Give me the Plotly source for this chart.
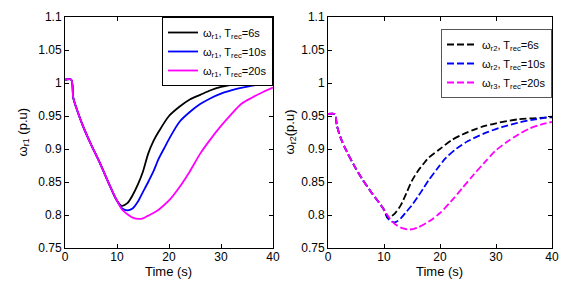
import plotly.graph_objects as go

# ---------------- data ----------------
# Left panel (omega_r1)
t_r1_6 = [0, 1.2, 1.6, 2.5, 3.5, 5, 6.7, 8.7, 9.9, 10.9, 12, 13, 14, 15, 16, 17, 18, 20, 22, 24, 26, 28, 30, 34, 40]
v_r1_6 = [1.005, 1.005, 0.977, 0.955, 0.934, 0.907, 0.879, 0.843, 0.823, 0.814, 0.818, 0.830, 0.846, 0.866, 0.893, 0.912, 0.926, 0.950, 0.964, 0.975, 0.982, 0.989, 0.994, 1.000, 1.006]

t_r1_10 = [0, 1.2, 1.6, 2.5, 3.5, 5, 6.7, 8.7, 9.9, 11, 12, 13, 14, 15, 16, 17, 18, 19, 20, 22, 24, 26, 28, 30, 33, 36, 40]
v_r1_10 = [1.005, 1.005, 0.977, 0.955, 0.934, 0.907, 0.879, 0.843, 0.823, 0.810, 0.807, 0.810, 0.820, 0.835, 0.850, 0.866, 0.885, 0.900, 0.915, 0.941, 0.956, 0.968, 0.977, 0.984, 0.991, 0.996, 1.001]

t_r1_20 = [0, 1.2, 1.6, 2.5, 3.5, 5, 6.7, 8.7, 9.9, 11, 12, 13, 14.2, 15, 16, 17, 18, 20, 22, 24, 26, 28, 30, 32, 34, 36, 38, 40]
v_r1_20 = [1.005, 1.005, 0.977, 0.955, 0.934, 0.907, 0.879, 0.843, 0.823, 0.808, 0.801, 0.796, 0.794, 0.795, 0.799, 0.803, 0.808, 0.822, 0.842, 0.866, 0.893, 0.915, 0.935, 0.953, 0.969, 0.978, 0.986, 0.993]

# Right panel (omega_r2)
t_r2_6 = [0, 1.2, 1.6, 2.3, 3.3, 4.6, 6, 7.6, 9, 10, 10.7, 12, 13, 14, 15, 16, 17, 18, 20, 22, 24, 26, 28, 30, 34, 40]
v_r2_6 = [0.953, 0.953, 0.935, 0.916, 0.897, 0.876, 0.856, 0.836, 0.820, 0.808, 0.795, 0.803, 0.815, 0.833, 0.852, 0.866, 0.877, 0.887, 0.900, 0.913, 0.922, 0.929, 0.935, 0.939, 0.945, 0.948]

t_r2_10 = [0, 1.2, 1.6, 2.3, 3.3, 4.6, 6, 7.6, 9, 10, 11, 12, 13, 14, 15, 16, 17, 18, 19.5, 21, 23, 25, 28, 31, 34, 37, 40]
v_r2_10 = [0.953, 0.953, 0.935, 0.916, 0.897, 0.876, 0.856, 0.836, 0.820, 0.808, 0.792, 0.789, 0.795, 0.805, 0.815, 0.827, 0.840, 0.853, 0.870, 0.886, 0.901, 0.912, 0.924, 0.933, 0.940, 0.945, 0.949]

t_r2_20 = [0, 1.2, 1.6, 2.3, 3.3, 4.6, 6, 7.6, 9, 10, 11, 12, 13, 14.5, 16, 18, 20, 22, 24, 26, 28, 30, 32, 34, 36, 38, 40]
v_r2_20 = [0.953, 0.953, 0.935, 0.916, 0.897, 0.876, 0.856, 0.836, 0.820, 0.808, 0.795, 0.786, 0.781, 0.778, 0.781, 0.790, 0.803, 0.821, 0.841, 0.861, 0.880, 0.898, 0.911, 0.922, 0.931, 0.937, 0.941]

x_ticks = [0, 10, 20, 30, 40]
y_ticks = [0.75, 0.8, 0.85, 0.9, 0.95, 1.0, 1.05, 1.1]
y_tick_labels = ["0.75", "0.8", "0.85", "0.9", "0.95", "1", "1.05", "1.1"]

names_left = ["ω<sub>r1</sub>, T<sub>rec</sub>=6s", "ω<sub>r1</sub>, T<sub>rec</sub>=10s", "ω<sub>r1</sub>, T<sub>rec</sub>=20s"]
names_right = ["ω<sub>r2</sub>, T<sub>rec</sub>=6s", "ω<sub>r2</sub>, T<sub>rec</sub>=10s", "ω<sub>r3</sub>, T<sub>rec</sub>=20s"]
colors = ["#000000", "#0000FF", "#FF00FF"]

W, H = 574, 287
FONT = "Liberation Sans, Arial, sans-serif"

fig = go.Figure()
left = [(t_r1_6, v_r1_6), (t_r1_10, v_r1_10), (t_r1_20, v_r1_20)]
right = [(t_r2_6, v_r2_6), (t_r2_10, v_r2_10), (t_r2_20, v_r2_20)]
for (t, v), nm, c in zip(left, names_left, colors):
    fig.add_trace(go.Scatter(x=t, y=v, mode="lines", name=nm,
                             line=dict(color=c, width=1.8, shape="spline", smoothing=0.8),
                             xaxis="x", yaxis="y", legend="legend"))
for (t, v), nm, c in zip(right, names_right, colors):
    fig.add_trace(go.Scatter(x=t, y=v, mode="lines", name=nm,
                             line=dict(color=c, width=1.8, dash="7px,3px", shape="spline", smoothing=0.8),
                             xaxis="x2", yaxis="y2", legend="legend2"))

xl0, xl1 = 65 / W, 273 / W
xr0, xr1 = 328 / W, 552 / W
y0, y1 = (H - 248) / H, (H - 17) / H

axis_common = dict(showgrid=False, zeroline=False, showline=True, linecolor="black", linewidth=1,
                   mirror="ticks", ticks="inside", ticklen=4, tickcolor="black", automargin=False,
                   tickfont=dict(family=FONT, size=12, color="black"))

fig.update_layout(
    width=W, height=H, autosize=False,
    margin=dict(l=0, r=0, t=0, b=0, pad=0, autoexpand=False),
    paper_bgcolor="white", plot_bgcolor="white",
    font=dict(family=FONT, color="black"),
    xaxis=dict(domain=[xl0, xl1], range=[0, 40], tickvals=x_ticks, anchor="y", ticklabelstandoff=-2, **axis_common),
    yaxis=dict(domain=[y0, y1], range=[0.75, 1.1], tickvals=y_ticks, ticktext=y_tick_labels, anchor="x", **axis_common),
    xaxis2=dict(domain=[xr0, xr1], range=[0, 40], tickvals=x_ticks, anchor="y2", ticklabelstandoff=-2, **axis_common),
    yaxis2=dict(domain=[y0, y1], range=[0.75, 1.1], tickvals=y_ticks, ticktext=y_tick_labels, anchor="x2", **axis_common),
    legend=dict(x=xl1, y=y1, xanchor="right", yanchor="top", bgcolor="white",
                bordercolor="black", borderwidth=1, font=dict(family=FONT, size=11),
                tracegroupgap=0),
    legend2=dict(x=xr1, y=y1 - 12 / H, xanchor="right", yanchor="top", bgcolor="white",
                 bordercolor="#555555", borderwidth=1, font=dict(family=FONT, size=11),
                 tracegroupgap=0),
    showlegend=True,
)

ann = dict(xref="paper", yref="paper", showarrow=False, font=dict(family=FONT, size=13, color="black"))
fig.add_annotation(text="Time (s)", x=(xl0 + xl1) / 2, y=(H - 271) / H, xanchor="center", yanchor="middle", **ann)
fig.add_annotation(text="Time (s)", x=(xr0 + xr1) / 2, y=(H - 271) / H, xanchor="center", yanchor="middle", **ann)
fig.add_annotation(text="ω<sub>r1</sub> (p.u)", x=23 / W, y=(y0 + y1) / 2, textangle=-90, xanchor="center", yanchor="middle", **ann)
fig.add_annotation(text="ω<sub>r2</sub>(p.u)", x=290 / W, y=(y0 + y1) / 2, textangle=-90, xanchor="center", yanchor="middle", **ann)

fig.write_html("out.html", config={"displayModeBar": False},
               post_script="document.body.style.margin='0px';document.body.style.overflow='hidden';")
